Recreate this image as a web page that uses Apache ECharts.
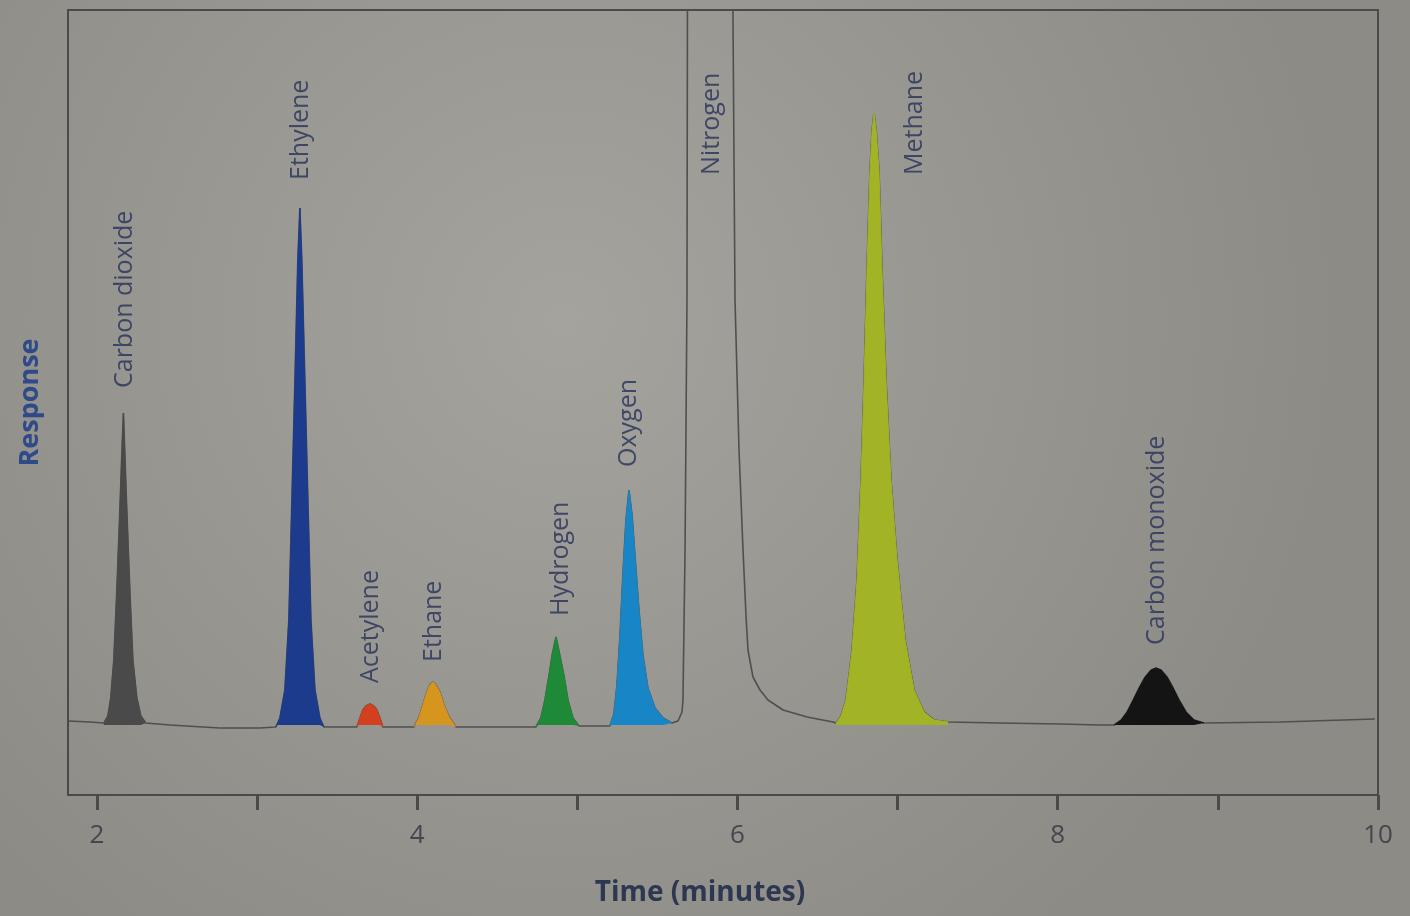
<!DOCTYPE html>
<html>
<head>
<meta charset="utf-8">
<script src="https://cdn.jsdelivr.net/npm/echarts@6/dist/echarts.min.js"></script>
<style>
  html, body { margin: 0; padding: 0; background: #9a9993; }
  #chart { width: 1410px; height: 916px; }
</style>
</head>
<body>
<div id="chart"></div>
<script>
// ---- Data (time in minutes, response in arbitrary units) ----
const tickValues = [2, 3, 4, 5, 6, 7, 8, 9, 10];
const tickLabels = [2, 4, 6, 8, 10];

const baselineT = [1.82, 1.956, 2.456, 2.768, 3.018, 3.518, 3.893, 4.455, 4.642, 5.110, 7.640, 8.015, 8.265, 9.389, 9.98];
const baselineR = [0.4, 0.3, 0, -0.3, -0.3, -0.2, -0.2, -0.2, -0.2, -0.1, 0.2, 0.1, 0, 0.3, 0.6];

const co2T = [2.044, 2.069, 2.087, 2.106, 2.125, 2.144, 2.156, 2.166, 2.175, 2.187, 2.206, 2.225, 2.250, 2.275, 2.306];
const co2R = [0.2, 0.9, 2.7, 6.5, 13.5, 21.5, 27.0, 31.2, 27.0, 21.5, 13.5, 6.5, 2.7, 0.9, 0.2];

const ethyleneT = [3.118, 3.143, 3.174, 3.199, 3.218, 3.237, 3.255, 3.268, 3.280, 3.299, 3.318, 3.337, 3.362, 3.393, 3.418];
const ethyleneR = [-0.2, 0.7, 3.5, 10.5, 22.5, 34.5, 46.5, 51.7, 46.5, 34.5, 22.5, 10.5, 3.5, 0.7, -0.2];

const acetyleneT = [3.624, 3.643, 3.661, 3.680, 3.705, 3.730, 3.749, 3.768, 3.786];
const acetyleneR = [-0.2, 0.7, 1.5, 1.9, 2.1, 1.9, 1.5, 0.7, -0.2];

const ethaneT = [3.980, 4.011, 4.036, 4.061, 4.080, 4.099, 4.117, 4.142, 4.167, 4.199, 4.242];
const ethaneR = [-0.2, 0.7, 2.0, 3.3, 4.0, 4.3, 4.0, 3.3, 2.0, 0.8, -0.2];

const hydrogenT = [4.742, 4.773, 4.798, 4.823, 4.842, 4.867, 4.892, 4.917, 4.942, 4.973, 5.011];
const hydrogenR = [-0.2, 0.7, 2.5, 4.9, 6.9, 8.8, 6.9, 4.9, 2.5, 0.7, -0.1];

const oxygenT = [5.204, 5.229, 5.248, 5.267, 5.285, 5.304, 5.323, 5.342, 5.360, 5.385, 5.410, 5.441, 5.485, 5.535, 5.591];
const oxygenR = [-0.1, 1.1, 4.0, 9.0, 15.0, 20.5, 23.5, 21.0, 17.0, 11.5, 7.0, 3.7, 1.7, 0.7, 0.2];

// nitrogen is off-scale (clipped at the top of the plot)
const nitrogenT = [5.629, 5.654, 5.660, 5.673, 5.685, 5.688, 5.691, 5.829, 5.966, 5.972, 5.985, 6.010, 6.035, 6.054, 6.066, 6.097, 6.141, 6.191, 6.285, 6.435, 6.597];
const nitrogenR = [0.4, 1.3, 2.5, 17.5, 42.5, 71.5, 102.5, 110, 102.5, 71.5, 42.5, 27.5, 17.5, 10.8, 7.5, 4.8, 3.5, 2.5, 1.5, 0.8, 0.3];

const methaneT = [6.616, 6.647, 6.678, 6.716, 6.747, 6.772, 6.791, 6.809, 6.828, 6.841, 6.853, 6.866, 6.884, 6.903, 6.928, 6.959, 6.997, 7.047, 7.103, 7.165, 7.228, 7.315];
const methaneR = [0.2, 0.9, 2.5, 7.5, 14.5, 24.5, 34.5, 45.5, 55.5, 59.5, 61.2, 59.5, 55.5, 45.5, 34.5, 24.5, 16.5, 8.5, 3.5, 1.3, 0.5, 0.3];

const coT = [8.352, 8.396, 8.433, 8.471, 8.508, 8.546, 8.583, 8.614, 8.646, 8.683, 8.721, 8.758, 8.802, 8.852, 8.914];
const coR = [0, 0.5, 1.3, 2.5, 3.7, 4.8, 5.5, 5.7, 5.5, 4.8, 3.7, 2.5, 1.3, 0.5, 0.2];

const labelNames = ['Carbon dioxide', 'Ethylene', 'Acetylene', 'Ethane', 'Hydrogen', 'Oxygen', 'Nitrogen', 'Methane', 'Carbon monoxide'];
const labelT = [2.175, 3.274, 3.711, 4.105, 4.898, 5.323, 5.841, 7.109, 8.621];
const labelR = [33.7, 54.5, 4.2, 6.3, 10.9, 25.8, 55.0, 55.0, 8.0];

// ---- Build the chart ----
const zip = (t, r) => t.map((v, i) => [v, r[i]]);

const filledPeaks = [
  { name: 'Carbon dioxide', t: co2T, r: co2R, color: '#4a4a4a' },
  { name: 'Ethylene', t: ethyleneT, r: ethyleneR, color: '#1d3b8c' },
  { name: 'Acetylene', t: acetyleneT, r: acetyleneR, color: '#d2401e' },
  { name: 'Ethane', t: ethaneT, r: ethaneR, color: '#d5951f' },
  { name: 'Hydrogen', t: hydrogenT, r: hydrogenR, color: '#1e8a37' },
  { name: 'Oxygen', t: oxygenT, r: oxygenR, color: '#1886c6' },
  { name: 'Methane', t: methaneT, r: methaneR, color: '#a2b326' },
  { name: 'Carbon monoxide', t: coT, r: coR, color: '#141414' }
];

const tracePoints = []
  .concat(zip(baselineT, baselineR))
  .concat(zip(nitrogenT, nitrogenR));
filledPeaks.forEach(p => { zip(p.t, p.r).forEach(pt => tracePoints.push(pt)); });
tracePoints.sort((a, b) => a[0] - b[0]);

const series = [];
series.push({
  name: 'Trace',
  type: 'line',
  data: tracePoints,
  showSymbol: false,
  symbol: 'none',
  clip: true,
  z: 2,
  lineStyle: { color: '#4f4f4f', width: 1.6 }
});
filledPeaks.forEach(p => {
  series.push({
    name: p.name,
    type: 'line',
    data: zip(p.t, p.r),
    showSymbol: false,
    symbol: 'none',
    z: 3,
    lineStyle: { color: p.color, width: 1 },
    areaStyle: { color: p.color, opacity: 1, origin: 0 }
  });
});
series.push({
  name: 'Labels',
  type: 'scatter',
  data: labelT.map((t, i) => ({ value: [t, labelR[i]], name: labelNames[i] })),
  symbolSize: 1,
  itemStyle: { color: 'rgba(0,0,0,0)' },
  z: 5,
  silent: true,
  label: {
    show: true,
    formatter: p => p.name,
    position: 'inside',
    rotate: 90,
    align: 'left',
    verticalAlign: 'middle',
    fontFamily: 'Open Sans',
    fontSize: 25,
    color: '#27315a'
  }
});

const chart = echarts.init(document.getElementById('chart'), null, { renderer: 'canvas' });
chart.setOption({
  animation: false,
  backgroundColor: {
    type: 'radial', x: 0.4, y: 0.35, r: 0.85,
    colorStops: [{ offset: 0, color: '#a4a39d' }, { offset: 1, color: '#8c8b86' }]
  },
  grid: {
    left: 68, right: 32, top: 10, bottom: 121,
    show: true, borderColor: '#4a4a48', borderWidth: 2, backgroundColor: 'rgba(0,0,0,0)'
  },
  xAxis: {
    type: 'value',
    min: 1.82,
    max: 10,
    axisLine: { show: true, onZero: false, lineStyle: { color: '#4a4a48', width: 2 } },
    axisTick: { show: true, customValues: tickValues, length: 15, lineStyle: { color: '#4a4a48', width: 3 } },
    axisLabel: { customValues: tickLabels, margin: 28, fontSize: 26, color: '#45454f', fontFamily: 'Open Sans' },
    splitLine: { show: false },
    name: 'Time (minutes)',
    nameLocation: 'middle',
    nameGap: 84,
    nameTextStyle: { fontSize: 28, fontWeight: 'bold', color: '#2e3752', fontFamily: 'Open Sans', padding: [0, 46, 0, 0] }
  },
  yAxis: {
    type: 'value',
    min: -7,
    max: 71.5,
    axisLine: { show: false },
    axisTick: { show: false },
    axisLabel: { show: false },
    splitLine: { show: false },
    name: 'Response',
    nameLocation: 'middle',
    nameRotate: 90,
    nameGap: 24,
    nameTextStyle: { fontSize: 27, fontWeight: 'bold', color: '#2f4a88', fontFamily: 'Open Sans' }
  },
  series: series
});
</script>
</body>
</html>
